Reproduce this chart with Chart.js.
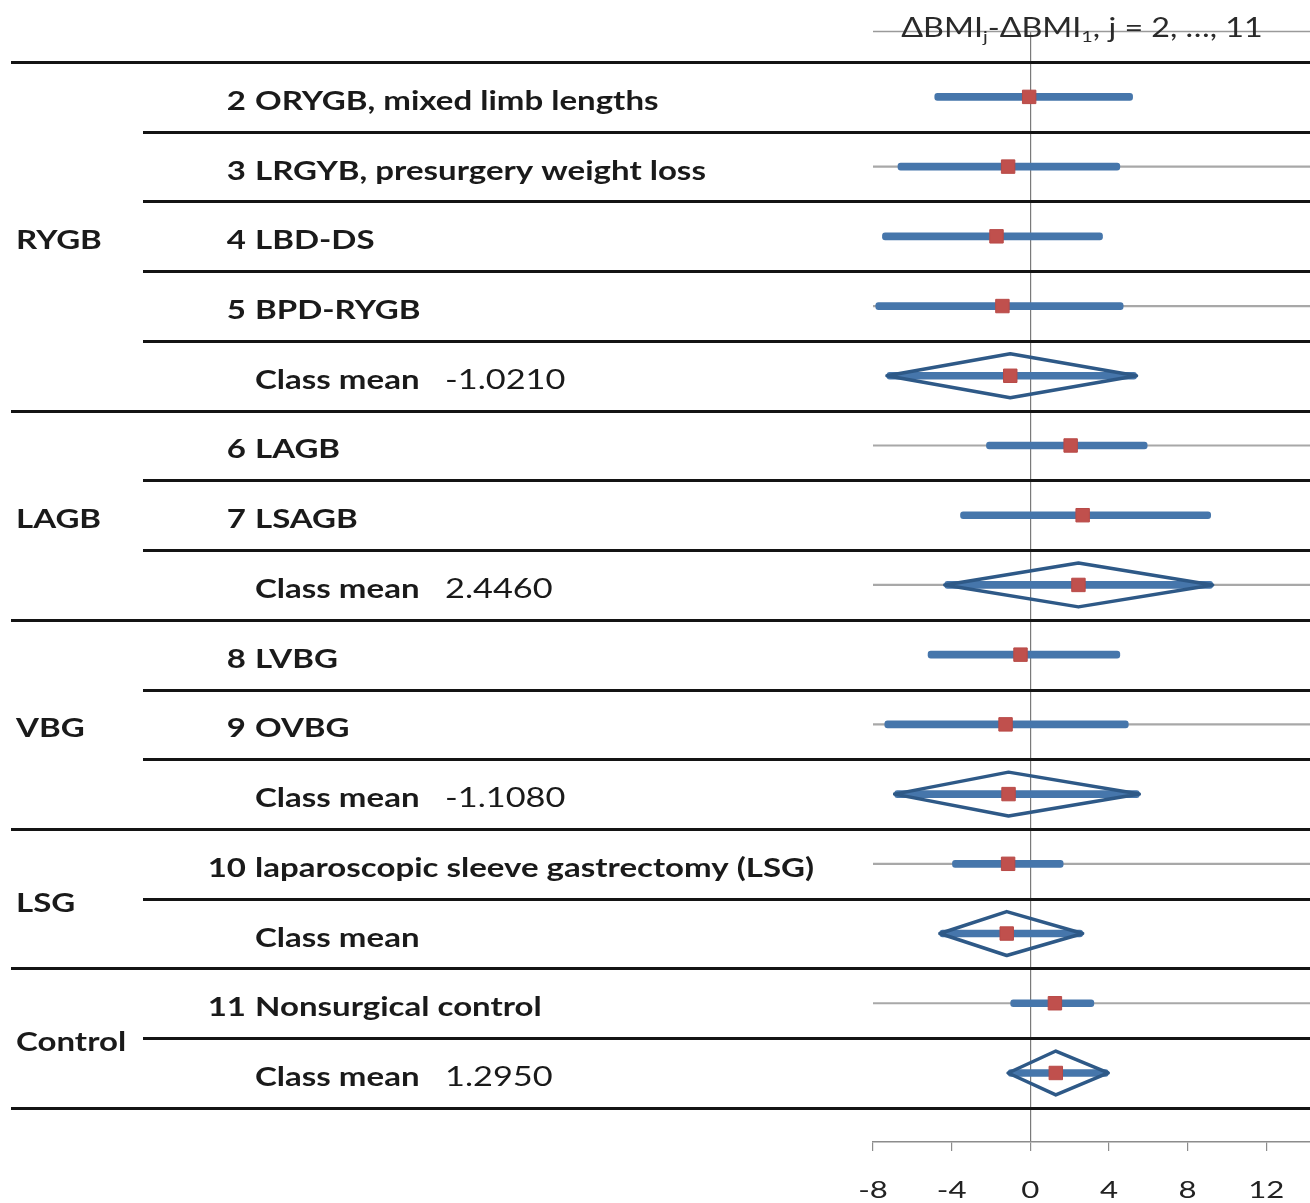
<!DOCTYPE html>
<html>
<head>
<meta charset="utf-8">
<script src="https://cdn.jsdelivr.net/npm/chart.js@4.4.1/dist/chart.umd.min.js"></script>
<style>
  html, body { margin: 0; padding: 0; background: #ffffff; }
  #wrap { width: 1310px; height: 1203px; }
</style>
</head>
<body>
<div id="wrap"><canvas id="c" width="1310" height="1203"></canvas></div>
<script>
// Forest plot of ΔBMI differences versus group 1, by surgical class

const rowNumbers = ['2', '3', '4', '5', '', '6', '7', '', '8', '9', '', '10', '', '11', ''];
const rowLabels = [
  'ORYGB, mixed limb lengths',
  'LRGYB, presurgery weight loss',
  'LBD-DS',
  'BPD-RYGB',
  'Class mean',
  'LAGB',
  'LSAGB',
  'Class mean',
  'LVBG',
  'OVBG',
  'Class mean',
  'laparoscopic sleeve gastrectomy (LSG)',
  'Class mean',
  'Nonsurgical control',
  'Class mean'
];
const meanLabels = ['', '', '', '', '-1.0210', '', '', '2.4460', '', '', '-1.1080', '', '', '', '1.2950'];

const estimates = [-0.06, -1.13, -1.72, -1.42, -1.021, 2.05, 2.66, 2.446, -0.50, -1.26, -1.108, -1.13, -1.20, 1.25, 1.295];
const lowerCI   = [-4.86, -6.73, -7.52, -7.86, -7.29, -2.23, -3.55, -4.35, -5.20, -7.40, -6.90, -3.96, -4.60, -1.00, -1.13];
const upperCI   = [ 5.20,  4.55,  3.67,  4.72,  5.40,  5.94,  9.17,  9.27,  4.55,  4.98,  5.54,  1.67,  2.66,  3.23,  3.96];

const classNames = ['RYGB', 'LAGB', 'VBG', 'LSG', 'Control'];
const classFirstRow = [0, 5, 8, 11, 13];
const classLastRow  = [4, 7, 10, 12, 14];

// rows that carry a faint full-width reference line
const guideRows = [1, 3, 5, 7, 9, 11, 13];

const xTicks = [-8, -4, 0, 4, 8, 12];
const xMin = -8, xMax = 14.22;

const rows = rowLabels.map((_, i) => i);
const isMeanRow = rowLabels.map(l => l === 'Class mean');
const DIAMOND_HALF = 0.315;

// diamond outlines for the class means, separated by gaps
const diamondPts = [];
rows.filter(i => isMeanRow[i]).forEach(i => {
  diamondPts.push({ x: lowerCI[i], y: i });
  diamondPts.push({ x: estimates[i], y: i - DIAMOND_HALF });
  diamondPts.push({ x: upperCI[i], y: i });
  diamondPts.push({ x: estimates[i], y: i + DIAMOND_HALF });
  diamondPts.push({ x: lowerCI[i], y: i });
  diamondPts.push({ x: null, y: null });
});

const LABEL_FONT = 'bold 26px Lato';
const VALUE_FONT = '26px Lato';
const WIDE = 1.27;      // horizontal stretch of the table lettering

function wideText(ctx, text, x, y, align, sx) {
  ctx.save();
  ctx.translate(x, y);
  ctx.scale(sx, 1);
  ctx.textAlign = align;
  ctx.fillText(text, 0, 0);
  ctx.restore();
}

const tablePlugin = {
  id: 'forestTable',
  beforeDatasetsDraw(chart) {
    const ctx = chart.ctx;
    const y = chart.scales.y;
    const area = chart.chartArea;
    const W = chart.width;
    ctx.save();
    // thin top frame line across the plotting area
    ctx.strokeStyle = '#9a9a9a';
    ctx.lineWidth = 1.5;
    ctx.beginPath();
    ctx.moveTo(area.left, area.top + 0.5);
    ctx.lineTo(W, area.top + 0.5);
    ctx.stroke();

    // table rules between rows
    const fullRules = new Set([0, ...classLastRow.map(r => r + 1)]);
    ctx.strokeStyle = '#141414';
    ctx.lineWidth = 3;
    for (let b = 0; b <= rows.length; b++) {
      const xs = fullRules.has(b) ? 11 : 143;
      const py = Math.round(y.getPixelForValue(b - 0.5)) + 0.5;
      ctx.beginPath();
      ctx.moveTo(xs, py);
      ctx.lineTo(W, py);
      ctx.stroke();
    }
    ctx.restore();
  },
  afterDraw(chart) {
    const ctx = chart.ctx;
    const y = chart.scales.y;
    const x = chart.scales.x;
    ctx.save();
    ctx.fillStyle = '#1a1a1a';
    ctx.textBaseline = 'alphabetic';

    rows.forEach(i => {
      const base = y.getPixelForValue(i) + 13;
      ctx.font = LABEL_FONT;
      if (rowNumbers[i]) wideText(ctx, rowNumbers[i], 246, base, 'right', WIDE);
      wideText(ctx, rowLabels[i], 255, base, 'left', WIDE);
      if (meanLabels[i]) {
        ctx.font = VALUE_FONT;
        wideText(ctx, meanLabels[i], 445, base, 'left', 1.32);
      }
    });

    ctx.font = LABEL_FONT;
    classNames.forEach((name, k) => {
      const mid = (classFirstRow[k] + classLastRow[k]) / 2;
      wideText(ctx, name, 16, y.getPixelForValue(mid) + 13, 'left', WIDE);
    });

    // x tick labels
    ctx.font = '24px Lato';
    ctx.fillStyle = '#222';
    x.ticks.forEach(t => {
      wideText(ctx, String(t.value), x.getPixelForValue(t.value), x.top + 56, 'center', 1.3);
    });

    // axis title with subscripts
    const parts = [
      { t: 'ΔBMI', sub: false }, { t: 'j', sub: true },
      { t: '-ΔBMI', sub: false }, { t: '1', sub: true },
      { t: ', j = 2, …, 11', sub: false }
    ];
    const TS = 1.24;
    const mainFont = '26px Lato', subFont = '16px Lato';
    let total = 0;
    parts.forEach(p => { ctx.font = p.sub ? subFont : mainFont; p.w = ctx.measureText(p.t).width * TS; total += p.w; });
    let tx = 1082 - total / 2;
    const tb = chart.chartArea.top + 6;
    ctx.fillStyle = '#2a2a2a';
    parts.forEach(p => {
      ctx.font = p.sub ? subFont : mainFont;
      wideText(ctx, p.t, tx, p.sub ? tb + 5 : tb, 'left', TS);
      tx += p.w;
    });
    ctx.restore();
  }
};

new Chart(document.getElementById('c'), {
  data: {
    datasets: [
      {
        type: 'scatter',
        label: 'estimate',
        order: 0,
        data: rows.map(i => ({ x: estimates[i], y: i })),
        pointStyle: 'rect',
        pointRadius: 9.5,
        pointBackgroundColor: '#c0504d',
        pointBorderColor: '#b84a47',
        pointBorderWidth: 1,
        showLine: false
      },
      {
        type: 'scatter',
        label: 'class mean',
        order: 1,
        data: diamondPts,
        showLine: true,
        spanGaps: false,
        borderColor: '#2e5987',
        borderWidth: 3.5,
        borderJoinStyle: 'round',
        borderCapStyle: 'round',
        pointRadius: 0,
        fill: false,
        tension: 0
      },
      {
        type: 'bar',
        label: 'interval',
        order: 2,
        indexAxis: 'y',
        grouped: false,
        data: rows.map(i => ({ x: [lowerCI[i], upperCI[i]], y: i })),
        backgroundColor: '#4676ab',
        borderWidth: 0,
        borderRadius: 3,
        borderSkipped: false,
        barThickness: 7
      },
      {
        type: 'bar',
        label: 'guide',
        order: 3,
        indexAxis: 'y',
        grouped: false,
        data: guideRows.map(i => ({ x: [xMin, xMax], y: i })),
        backgroundColor: '#a8a8a8',
        borderWidth: 0,
        barThickness: 1.5
      }
    ]
  },
  options: {
    responsive: false,
    devicePixelRatio: 1,
    animation: false,
    events: [],
    layout: { autoPadding: false, padding: { left: 873, right: 0, top: 31, bottom: 0 } },
    plugins: { legend: { display: false }, tooltip: { enabled: false } },
    scales: {
      x: {
        type: 'linear',
        position: 'bottom',
        offset: false,
        min: xMin,
        max: xMax,
        afterBuildTicks: s => { s.ticks = xTicks.map(v => ({ value: v })); },
        afterFit: s => { s.height = 61; },
        border: { display: true, color: '#8c8c8c', width: 1.5 },
        grid: {
          offset: false,
          drawOnChartArea: true,
          color: c => (c.tick && c.tick.value === 0 ? '#7a7a7a' : 'rgba(0,0,0,0)'),
          lineWidth: 1.2,
          tickColor: '#8c8c8c',
          tickLength: 9
        },
        ticks: { display: false }
      },
      y: {
        type: 'linear',
        display: false,
        reverse: true,
        offset: false,
        grid: { offset: false },
        min: -0.945,
        max: 14.99
      }
    }
  },
  plugins: [tablePlugin]
});
</script>
</body>
</html>
